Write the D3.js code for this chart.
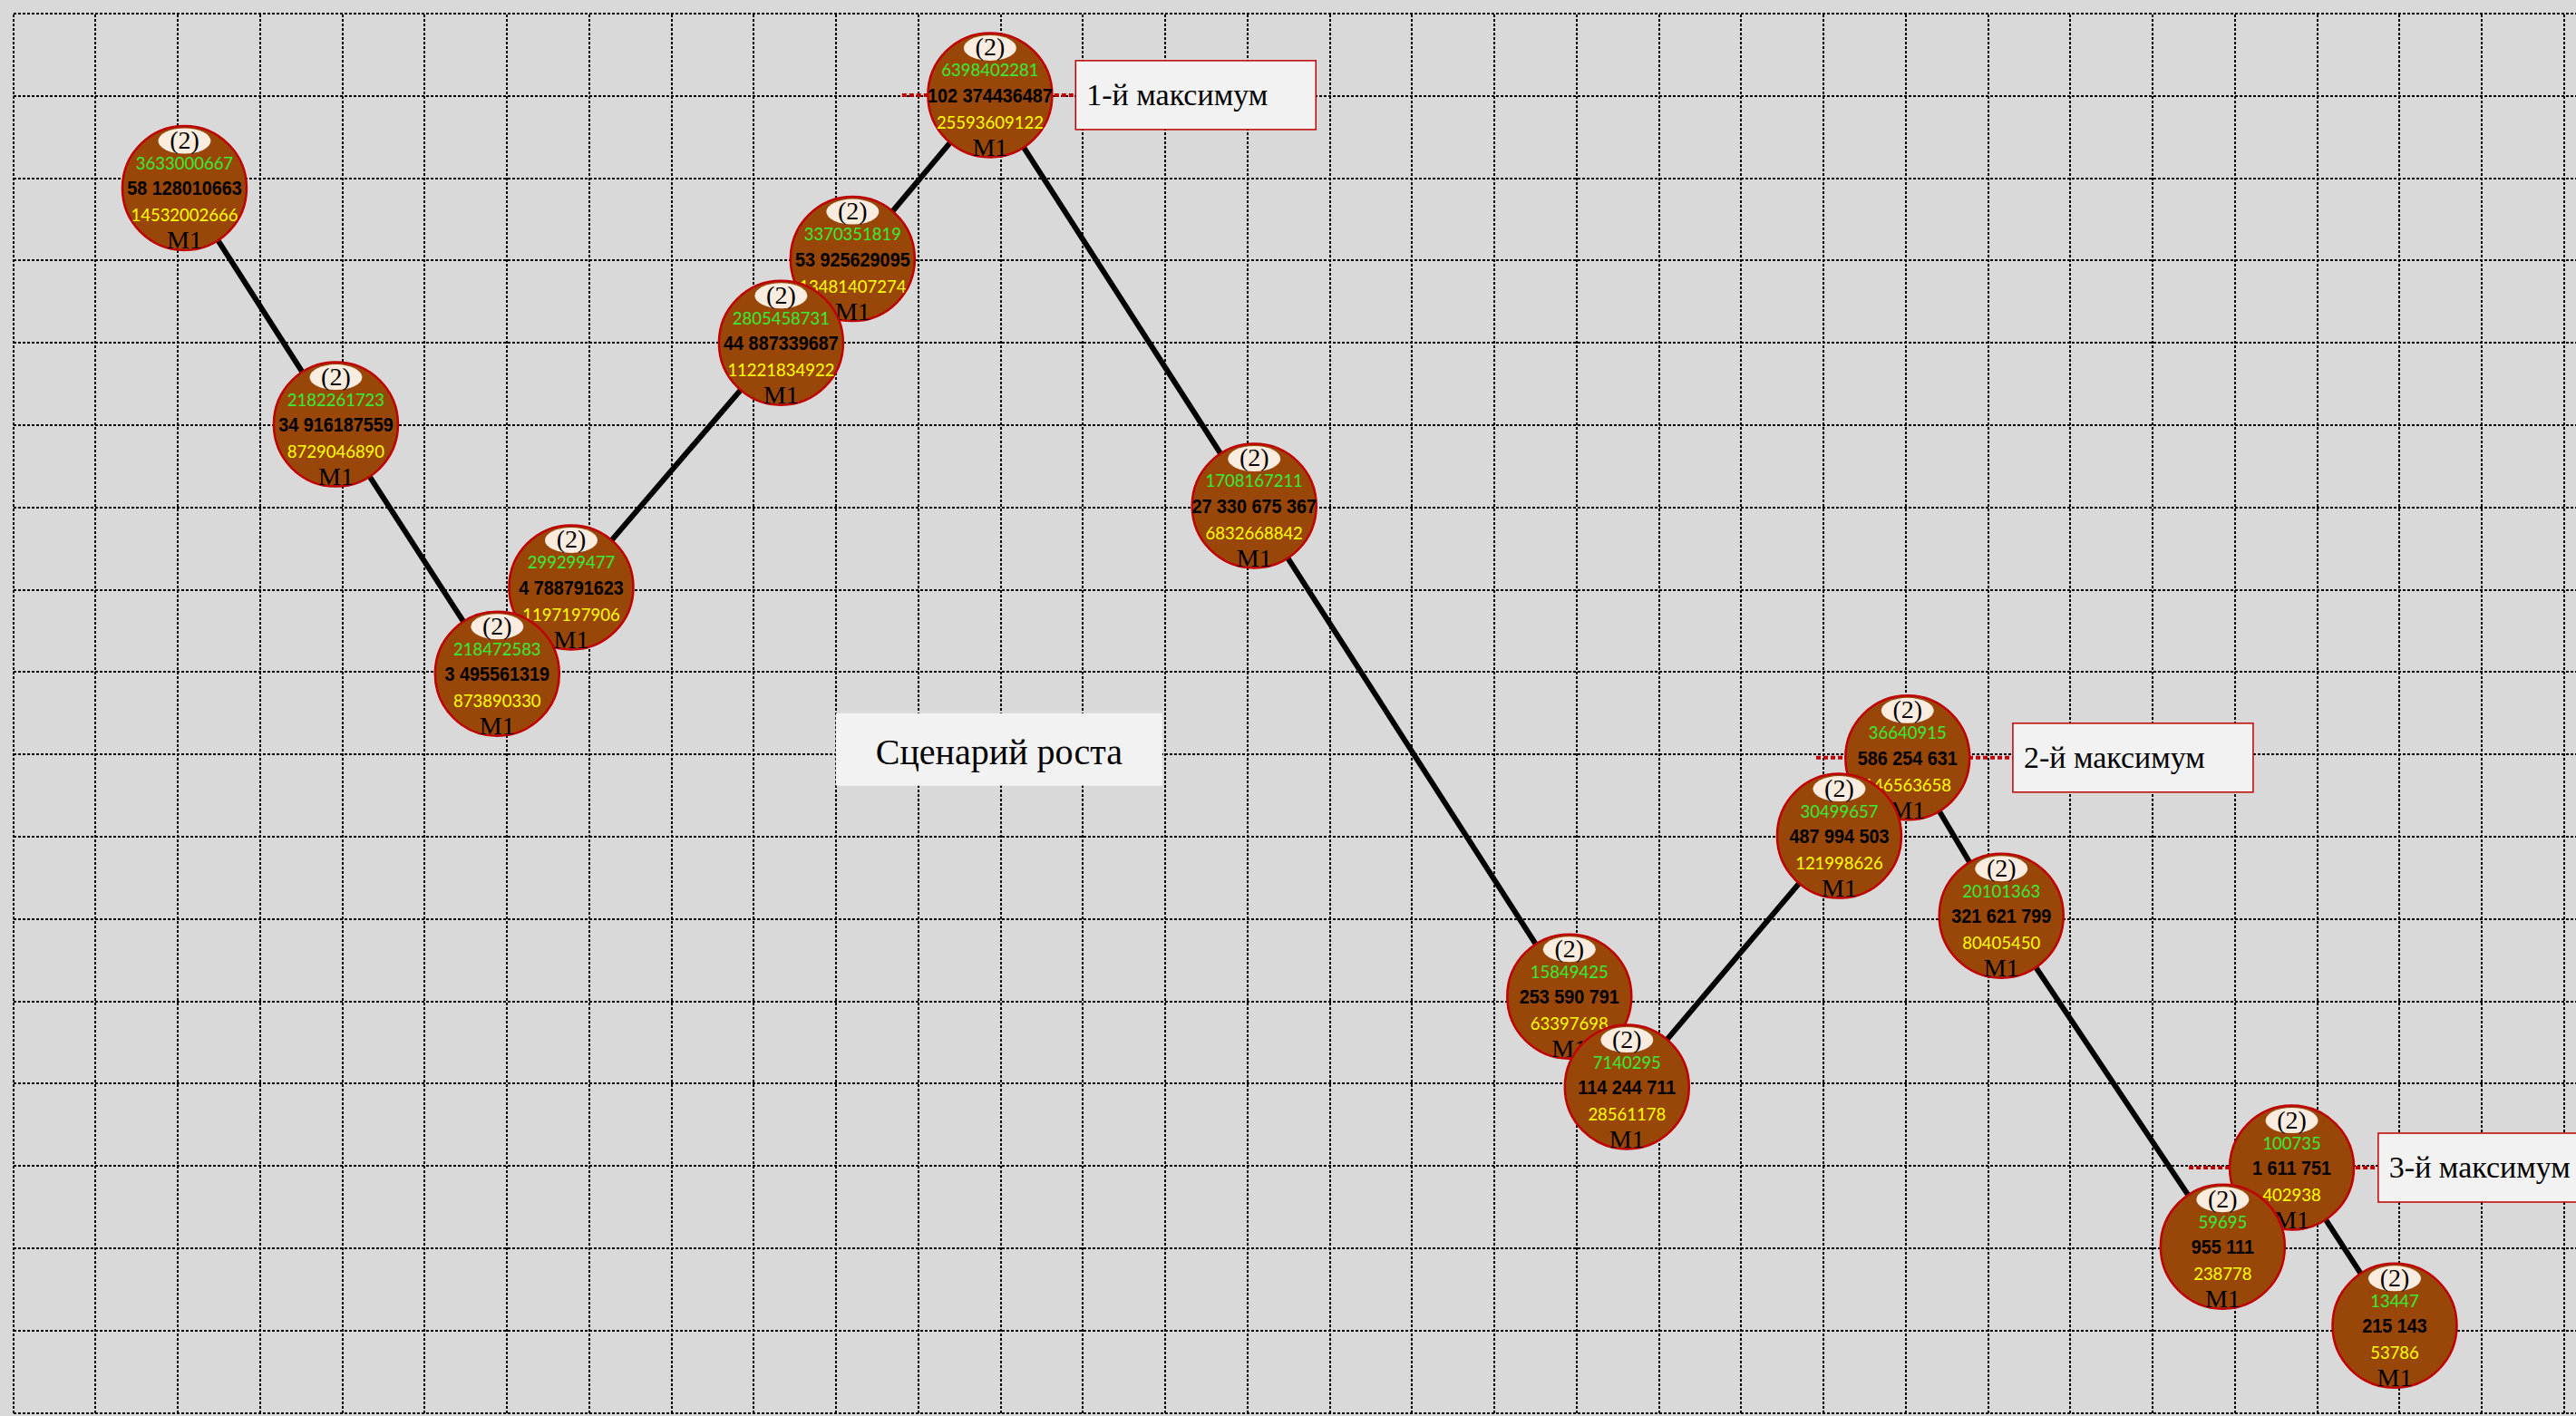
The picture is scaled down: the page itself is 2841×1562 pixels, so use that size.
<!DOCTYPE html>
<html>
<head>
<meta charset="utf-8">
<script src="https://cdn.jsdelivr.net/npm/d3@7"></script>
<style>
  html, body { margin: 0; padding: 0; background: #d9d9d9; overflow: hidden; }
  svg { display: block; }
</style>
</head>
<body>
<svg id="chart"></svg>
<script>
// positions in grid units (x: columns from the left, y: rows from the bottom)
const xValues = [2.08, 3.92, 5.88, 6.78, 9.33, 10.2, 11.87, 15.08, 18.91, 19.61, 22.19, 23.02, 24.16, 26.85, 27.69, 28.94];
const yValues = [14.88, 12.01, 8.98, 10.03, 13.0, 14.02, 16.01, 11.02, 5.06, 3.96, 7.01, 7.96, 6.04, 2.02, 2.98, 1.06];

const upperLabels = ["3633000667", "2182261723", "218472583", "299299477", "2805458731", "3370351819", "6398402281", "1708167211",
  "15849425", "7140295", "30499657", "36640915", "20101363", "59695", "100735", "13447"];
const mainLabels = ["58 128010663", "34 916187559", "3 495561319", "4 788791623", "44 887339687", "53 925629095", "102 374436487", "27 330 675 367",
  "253 590 791", "114 244 711", "487 994 503", "586 254 631", "321 621 799", "955 111", "1 611 751", "215 143"];
const lowerLabels = ["14532002666", "8729046890", "873890330", "1197197906", "11221834922", "13481407274", "25593609122", "6832668842",
  "63397698", "28561178", "121998626", "146563658", "80405450", "238778", "402938", "53786"];
const badgeLabel = "(2)";
const tagLabel = "M1";

const peakIndex = [6, 11, 14];
const peakNames = ["1-й максимум", "2-й максимум", "3-й максимум"];
const peakLineStart = [10.8, 21.91, 26.44];
const peakBoxX = [12.91, 24.3, 28.74];

const titleText = "Сценарий роста";
const titleX = 11.98;
const titleY = 8.06;

const width = 2841;
const height = 1562;
const step = 90.75;
const plotLeft = 14.7;
const plotTop = 15;
const radius = 68.5;

const svg = d3.select("#chart").attr("width", width).attr("height", height);

const x = d3.scaleLinear().domain([0, 32]).range([plotLeft, plotLeft + 32 * step]);
const y = d3.scaleLinear().domain([0, 17]).range([plotTop + 17 * 90.8, plotTop]);

// dotted grid
const gridX = svg.append("g")
  .attr("transform", `translate(0,${y(0)})`)
  .call(d3.axisBottom(x).tickValues(d3.range(0, 32)).tickSize(-(y(0) - y(17))).tickFormat("").offset(0));
const gridY = svg.append("g")
  .attr("transform", `translate(${x(0)},0)`)
  .call(d3.axisLeft(y).tickValues(d3.range(0, 18)).tickSize(-(x(32) - x(0))).tickFormat("").offset(0));
[gridX, gridY].forEach((g) => {
  g.select(".domain").remove();
  g.selectAll(".tick line")
    .attr("stroke", "#000")
    .attr("stroke-width", 2)
    .attr("stroke-dasharray", "3,2")
    .attr("shape-rendering", "crispEdges");
});

const points = xValues.map((xv, i) => ({
  i,
  x: xv,
  y: yValues[i],
  upper: upperLabels[i],
  main: mainLabels[i],
  lower: lowerLabels[i],
}));

// connecting line
const line = d3.line().x((d) => x(d.x)).y((d) => y(d.y));
svg.append("path")
  .datum(points)
  .attr("d", line)
  .attr("fill", "none")
  .attr("stroke", "#000")
  .attr("stroke-width", 6);

// red dotted leaders to the maximum labels
const peaks = peakIndex.map((idx, k) => ({
  p: points[idx],
  name: peakNames[k],
  start: peakLineStart[k],
  boxX: peakBoxX[k],
}));

svg.append("g")
  .selectAll("line")
  .data(peaks)
  .join("line")
  .attr("x1", (d) => x(d.start))
  .attr("x2", (d) => x(d.boxX))
  .attr("y1", (d) => y(d.p.y))
  .attr("y2", (d) => y(d.p.y))
  .attr("stroke", "#c00000")
  .attr("stroke-width", 4)
  .attr("stroke-dasharray", "5,3");

// bubbles, higher ones first so lower ones sit on top
const nodes = svg.append("g")
  .selectAll("g")
  .data(points.slice().sort((a, b) => b.y - a.y))
  .join("g")
  .attr("transform", (d) => `translate(${x(d.x)},${y(d.y)})`);

nodes.append("circle")
  .attr("r", radius)
  .attr("fill", "#994709")
  .attr("stroke", "#c00000")
  .attr("stroke-width", 2.5);

nodes.append("ellipse")
  .attr("cy", -52)
  .attr("rx", 29)
  .attr("ry", 14)
  .attr("fill", "#fbece0");

nodes.append("text")
  .attr("y", -43.5)
  .attr("text-anchor", "middle")
  .attr("font-family", "'Liberation Serif', serif")
  .attr("font-size", 28)
  .attr("fill", "#000")
  .text(badgeLabel);

nodes.append("text")
  .attr("y", -20.5)
  .attr("text-anchor", "middle")
  .attr("font-family", "Lato, sans-serif")
  .attr("font-size", 18.5)
  .attr("fill", "#33ee33")
  .text((d) => d.upper);

nodes.append("text")
  .attr("transform", "translate(0,8) scale(0.88,1)")
  .attr("text-anchor", "middle")
  .attr("font-family", "'Liberation Sans', Arial, sans-serif")
  .attr("font-weight", "bold")
  .attr("font-size", 22.5)
  .attr("fill", "#000")
  .text((d) => d.main);

nodes.append("text")
  .attr("y", 37)
  .attr("text-anchor", "middle")
  .attr("font-family", "Lato, sans-serif")
  .attr("font-size", 18.5)
  .attr("fill", "#ffff00")
  .text((d) => d.lower);

nodes.append("text")
  .attr("y", 67)
  .attr("text-anchor", "middle")
  .attr("font-family", "'Liberation Serif', serif")
  .attr("font-size", 28)
  .attr("fill", "#000")
  .text(tagLabel);

// maximum label boxes
const boxes = svg.append("g")
  .selectAll("g")
  .data(peaks)
  .join("g")
  .attr("transform", (d) => `translate(${x(d.boxX)},${y(d.p.y) - 38})`);

boxes.append("rect")
  .attr("width", 265)
  .attr("height", 76)
  .attr("fill", "#f2f2f2")
  .attr("stroke", "#c00000")
  .attr("stroke-width", 1.5);

boxes.append("text")
  .attr("x", 12)
  .attr("y", 49)
  .attr("font-family", "'Liberation Serif', serif")
  .attr("font-size", 34)
  .attr("fill", "#000")
  .text((d) => d.name);

// scenario title
const title = svg.append("g")
  .attr("transform", `translate(${x(titleX)},${y(titleY)})`);
title.append("rect")
  .attr("x", -180)
  .attr("y", -40)
  .attr("width", 360)
  .attr("height", 80)
  .attr("fill", "#f2f2f2");
title.append("text")
  .attr("y", 16.5)
  .attr("text-anchor", "middle")
  .attr("font-family", "'Liberation Serif', serif")
  .attr("font-size", 40)
  .attr("fill", "#000")
  .text(titleText);
</script>
</body>
</html>
